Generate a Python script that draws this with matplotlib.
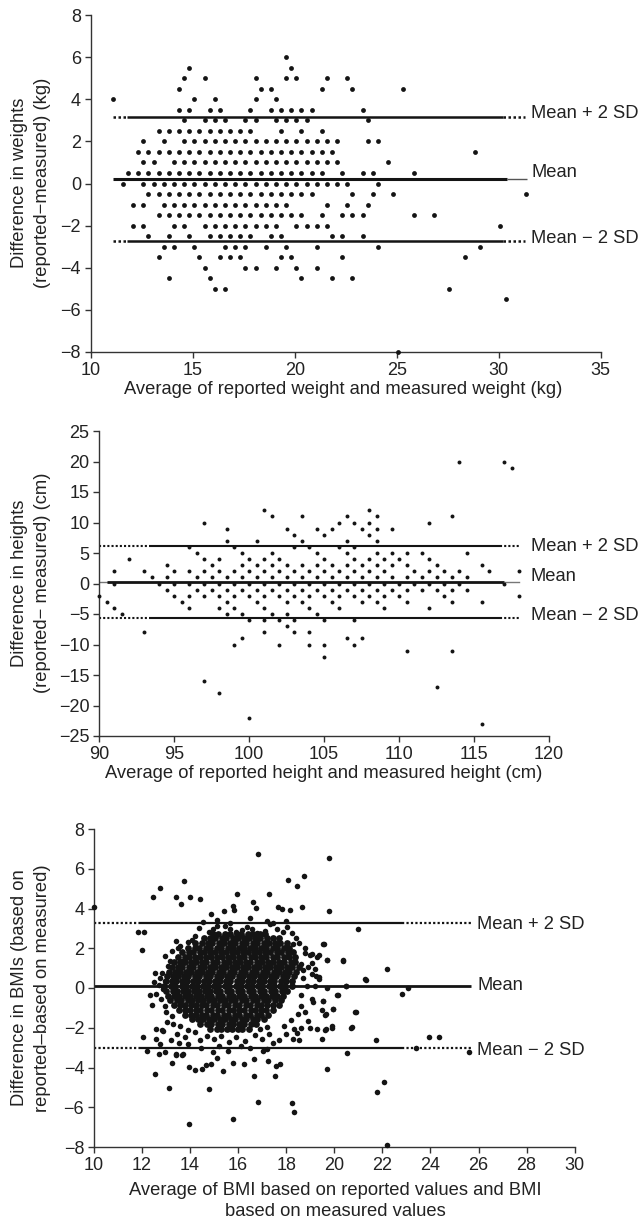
import matplotlib
matplotlib.use('Agg')
import matplotlib.pyplot as plt

plt.rcParams['font.family'] = ['Liberation Sans', 'DejaVu Sans']

# ---------------- Panel 1: weights ----------------
wt_diff_levels = [6.0, 5.5, 5.0, 4.5, 4.0, 3.5, 3.0, 2.5, 2.0, 1.5, 1.0, 0.5, 0.0,
                  -0.5, -1.0, -1.5, -2.0, -2.5, -3.0, -3.5, -4.0, -4.5, -5.0, -5.5, -8.0]
wt_avg_by_level = [
    [19.58],
    [14.83, 19.83],
    [14.58, 15.58, 18.08, 19.58, 20.08, 21.58, 22.58],
    [14.33, 18.33, 18.83, 21.33, 22.83, 25.33],
    [11.08, 15.08, 16.08, 18.08, 19.08],
    [14.33, 14.83, 15.83, 16.33, 17.83, 18.83, 19.33, 19.83, 20.33, 20.83, 23.33],
    [14.58, 15.58, 16.08, 16.58, 17.58, 18.08, 19.08, 19.58, 20.08, 20.58, 23.58],
    [13.33, 13.83, 14.33, 14.83, 15.33, 15.83, 16.33, 16.83, 17.33, 17.83, 19.33, 20.33, 21.33],
    [12.58, 13.58, 14.58, 15.08, 15.58, 16.08, 16.58, 17.08, 17.58, 18.08, 18.58, 19.08, 19.58,
     20.08, 20.58, 21.08, 21.58, 22.08, 23.58, 24.08],
    [12.33, 12.83, 13.33, 13.83, 14.33, 14.83, 15.33, 15.83, 16.33, 16.83, 17.33, 17.83, 18.33,
     18.83, 19.33, 19.83, 20.33, 20.83, 21.33, 21.83, 28.83],
    [12.58, 13.08, 14.08, 14.58, 15.08, 15.58, 16.08, 16.58, 17.08, 17.58, 18.08, 18.58, 19.08,
     19.58, 20.08, 20.58, 21.08, 21.58, 22.08, 24.58],
    [11.83, 12.33, 12.83, 13.33, 13.83, 14.33, 14.83, 15.33, 15.83, 16.33, 16.83, 17.33, 17.83,
     18.33, 18.83, 19.33, 19.83, 20.33, 20.83, 21.33, 22.33, 23.33, 23.83, 25.83],
    [11.58, 12.58, 13.08, 13.58, 14.08, 14.58, 15.08, 15.58, 16.08, 16.58, 17.08, 17.58, 18.08,
     18.58, 19.08, 19.58, 20.08, 20.58, 21.08, 21.58, 22.08, 22.58, 24.08],
    [12.83, 13.33, 13.83, 14.33, 14.83, 15.33, 15.83, 16.33, 16.83, 17.33, 17.83, 18.33, 18.83,
     19.33, 19.83, 20.33, 20.83, 22.83, 23.83, 24.83, 31.33],
    [12.08, 12.58, 13.58, 14.08, 14.58, 15.08, 15.58, 16.08, 16.58, 17.08, 17.58, 18.08, 18.58,
     19.08, 19.58, 21.58, 22.58, 23.58],
    [13.33, 13.83, 14.33, 14.83, 15.33, 15.83, 16.33, 16.83, 17.33, 17.83, 18.33, 18.83, 19.33,
     19.83, 20.33, 21.33, 22.33, 22.83, 23.33, 25.83, 26.83],
    [12.08, 12.58, 14.08, 14.58, 15.58, 16.08, 16.58, 17.08, 17.58, 18.08, 18.58, 19.08, 20.08,
     20.58, 21.08, 21.58, 30.08],
    [12.83, 13.83, 14.83, 15.83, 16.33, 16.83, 17.33, 17.83, 18.83, 19.33, 21.83, 22.33, 23.33],
    [13.58, 14.08, 15.08, 16.58, 17.08, 17.58, 18.58, 19.58, 21.08, 24.08, 29.08],
    [13.33, 15.33, 16.33, 16.83, 17.33, 19.33, 19.83, 22.33, 28.33],
    [15.58, 17.58, 18.08, 19.08, 20.08, 21.08],
    [13.83, 15.83, 20.33, 21.83, 22.83],
    [16.08, 16.58, 27.58],
    [30.33],
    [25.08],
]
wt_mean, wt_upper, wt_lower = 0.2, 3.18, -2.75

# ---------------- Panel 2: heights ----------------
ht_diff_levels = [20, 19, 12, 11, 10, 9, 8, 7, 6, 5, 4, 3, 2, 1, 0, -1, -2, -3, -4, -5, -6,
                  -7, -8, -9, -10, -11, -12, -16, -17, -18, -22, -23]
ht_avg_by_level = [
    [114, 117],
    [117.5],
    [101, 108],
    [101.5, 103.5, 106.5, 108.5, 113.5],
    [97, 106, 107, 108, 112],
    [98.5, 102.5, 104.5, 105.5, 107.5, 108.5, 109.5],
    [103, 105, 108],
    [98.5, 100.5, 103.5, 106.5, 108.5],
    [96, 99, 103, 104, 106, 107],
    [96.5, 99.5, 101.5, 104.5, 106.5, 108.5, 109.5, 110.5, 111.5, 114.5],
    [92, 97, 98, 100, 101, 102, 105, 107, 108, 109, 110, 112],
    [94.5, 97.5, 99.5, 100.5, 101.5, 102.5, 103.5, 104.5, 105.5, 106.5, 107.5, 108.5, 109.5,
     110.5, 112.5, 115.5],
    [91, 93, 95, 96, 97, 98, 99, 100, 101, 102, 103, 104, 105, 106, 107, 108, 109, 111, 112,
     113, 114, 116, 118],
    [93.5, 94.5, 96.5, 97.5, 98.5, 99.5, 100.5, 101.5, 102.5, 103.5, 104.5, 105.5, 106.5, 107.5,
     108.5, 109.5, 110.5, 111.5, 112.5, 113.5, 114.5],
    [91, 94, 95, 96, 97, 98, 99, 100, 101, 102, 103, 104, 105, 106, 107, 108, 109, 110, 111,
     112, 113, 114, 117],
    [94.5, 96.5, 97.5, 98.5, 99.5, 100.5, 101.5, 102.5, 103.5, 104.5, 105.5, 106.5, 107.5,
     108.5, 109.5, 110.5, 111.5, 112.5, 113.5, 114.5],
    [90, 95, 96, 97, 98, 99, 100, 101, 102, 103, 104, 105, 106, 107, 108, 109, 110, 113, 118],
    [90.5, 95.5, 98.5, 100.5, 102.5, 103.5, 105.5, 107.5, 108.5, 110.5, 113.5, 115.5],
    [91, 96, 98, 99, 101, 104, 106, 109, 112],
    [91.5, 98.5, 99.5, 101.5, 102.5, 104.5],
    [100, 101, 102, 103, 105, 107],
    [102.5],
    [93, 101, 103, 104],
    [99.5, 106.5, 107.5],
    [99, 102, 104, 105, 107],
    [110.5, 113.5],
    [105],
    [97],
    [112.5],
    [98],
    [100],
    [115.5],
]
ht_mean, ht_upper, ht_lower = 0.3, 6.1, -5.6

# ---------------- Panel 3: BMI ----------------
bmi_core_y = [2.74, 2.5, 2.27, 2.02, 1.79, 1.54, 1.3, 1.06, 0.83, 0.58, 0.35, 0.1, -0.14,
              -0.39, -0.62, -0.87, -1.1, -1.35, -1.58, -1.83, -2.07]
bmi_core_x = [
    [14.97, 15.18, 15.45, 15.68, 15.95, 16.13, 16.41, 16.6, 16.92, 17.12],
    [14.58, 14.84, 15.03, 15.31, 15.5, 15.77, 15.98, 16.24, 16.45, 16.72, 16.91, 17.22, 17.43, 17.72],
    [14.22, 14.49, 14.73, 14.93, 15.21, 15.42, 15.67, 15.88, 16.14, 16.33, 16.6, 16.79, 17.07,
     17.27, 17.52, 17.76, 18.02],
    [13.93, 14.19, 14.38, 14.65, 14.84, 15.11, 15.3, 15.57, 15.77, 16.04, 16.24, 16.5, 16.69,
     16.97, 17.17, 17.44, 17.63, 17.92, 18.13],
    [13.68, 13.94, 14.13, 14.4, 14.58, 14.85, 15.04, 15.3, 15.49, 15.75, 15.95, 16.22, 16.41,
     16.67, 16.86, 17.12, 17.33, 17.6, 17.8, 18.07, 18.28],
    [13.48, 13.77, 13.95, 14.22, 14.41, 14.67, 14.86, 15.12, 15.31, 15.58, 15.78, 16.05, 16.24,
     16.52, 16.7, 16.97, 17.16, 17.44, 17.63, 17.9, 18.1, 18.37],
    [13.33, 13.6, 13.78, 14.05, 14.24, 14.5, 14.68, 14.95, 15.14, 15.4, 15.6, 15.87, 16.06,
     16.32, 16.51, 16.78, 16.98, 17.25, 17.44, 17.72, 17.91, 18.19, 18.38],
    [13.23, 13.49, 13.68, 13.94, 14.13, 14.4, 14.58, 14.85, 15.03, 15.3, 15.48, 15.75, 15.94,
     16.22, 16.4, 16.67, 16.86, 17.12, 17.31, 17.58, 17.78, 18.05, 18.25, 18.52],
    [13.13, 13.39, 13.58, 13.84, 14.03, 14.29, 14.48, 14.75, 14.93, 15.2, 15.38, 15.65, 15.84,
     16.12, 16.3, 16.57, 16.76, 17.02, 17.21, 17.48, 17.68, 17.95, 18.13, 18.42],
    [13.03, 13.29, 13.48, 13.75, 13.93, 14.2, 14.38, 14.65, 14.84, 15.1, 15.28, 15.55, 15.74,
     16.02, 16.2, 16.47, 16.66, 16.92, 17.11, 17.38, 17.58, 17.85, 18.03, 18.32],
    [12.98, 13.24, 13.42, 13.68, 13.88, 14.14, 14.33, 14.59, 14.78, 15.05, 15.23, 15.5, 15.68,
     15.95, 16.14, 16.4, 16.6, 16.87, 17.06, 17.32, 17.51, 17.78, 17.98, 18.24],
    [12.93, 13.2, 13.38, 13.65, 13.83, 14.1, 14.28, 14.55, 14.74, 15.0, 15.18, 15.45, 15.64,
     15.92, 16.1, 16.37, 16.56, 16.82, 17.01, 17.28, 17.48, 17.74, 17.93, 18.22],
    [13.0, 13.27, 13.46, 13.72, 13.91, 14.17, 14.36, 14.62, 14.81, 15.08, 15.26, 15.52, 15.71,
     15.98, 16.18, 16.44, 16.63, 16.9, 17.08, 17.35, 17.54, 17.82, 18.05],
    [13.08, 13.35, 13.54, 13.8, 13.98, 14.25, 14.44, 14.7, 14.88, 15.15, 15.34, 15.6, 15.78,
     16.05, 16.24, 16.52, 16.7, 16.97, 17.16, 17.42, 17.61, 17.88],
    [13.18, 13.44, 13.63, 13.9, 14.08, 14.35, 14.53, 14.8, 14.98, 15.25, 15.44, 15.7, 15.88,
     16.15, 16.34, 16.62, 16.8, 17.07, 17.26, 17.52, 17.77],
    [13.33, 13.6, 13.78, 14.05, 14.23, 14.5, 14.68, 14.95, 15.14, 15.4, 15.58, 15.85, 16.04,
     16.32, 16.5, 16.77, 16.96, 17.22, 17.43, 17.7],
    [13.53, 13.8, 13.98, 14.24, 14.43, 14.7, 14.88, 15.15, 15.33, 15.6, 15.78, 16.05, 16.24,
     16.52, 16.7, 16.97, 17.16, 17.44],
    [13.78, 14.04, 14.23, 14.5, 14.68, 14.95, 15.13, 15.4, 15.58, 15.85, 16.04, 16.32, 16.5,
     16.77, 16.96, 17.24],
    [14.08, 14.35, 14.53, 14.8, 14.98, 15.25, 15.44, 15.7, 15.88, 16.15, 16.34, 16.62, 16.8, 17.07],
    [14.43, 14.7, 14.88, 15.15, 15.34, 15.6, 15.78, 16.05, 16.24, 16.52, 16.74],
    [14.83, 15.1, 15.28, 15.55, 15.74, 16.0, 16.18, 16.47],
]
# scattered points around the core and outliers
bmi_avg = [10.0, 11.82, 12.1, 12.02, 12.46, 12.77, 13.41, 13.62, 13.74, 14.0, 14.41,
           12.43, 12.05, 12.6, 12.6, 12.85, 12.77, 12.22, 12.72, 12.97,
           12.55, 13.23, 13.43, 13.67, 13.12, 13.97, 13.94, 14.19, 14.5, 14.77, 14.67, 14.89,
           15.11, 15.35, 15.77, 15.79, 16.25, 16.64, 16.64, 16.82, 17.25, 17.52, 17.59, 17.74,
           18.25, 18.34, 19.68, 20.54, 21.78, 22.07, 22.19, 21.73, 23.41, 23.96, 24.35, 25.62,
           22.19, 22.82, 23.07, 21.29, 21.32, 21.0, 20.36, 20.1, 20.49, 20.88, 20.71, 19.95,
           19.9, 19.63, 19.66, 19.51, 19.58, 19.69, 19.78, 19.78,
           16.84, 18.76, 18.08, 18.46, 17.28, 15.94, 16.62, 16.76, 15.77, 15.42, 15.84, 14.86,
           17.67, 17.84, 18.15, 18.66,
           14.37, 14.8, 14.97, 15.11, 15.45, 15.66, 15.91, 16.16, 16.38, 16.56, 16.79, 17.13,
           17.33, 17.6, 17.87, 18.05, 18.23, 14.08, 14.2, 13.9, 15.14, 15.66, 16.5, 17.19,
           17.47, 17.98, 18.4, 18.3, 14.55, 13.6, 13.4,
           13.5, 13.65, 13.17, 13.1, 12.56, 12.82, 12.75, 12.96, 12.89, 12.7, 12.6, 12.96,
           13.24, 12.8, 13.0, 13.05, 13.3, 12.86, 13.6, 13.45, 13.8, 13.2, 13.9, 12.35, 12.5,
           12.95, 13.25,
           18.53, 19.06, 19.06, 19.52, 19.71, 20.35, 18.78, 18.71, 19.06, 19.38, 19.38, 18.85,
           19.2, 19.68, 20.17, 20.49, 18.62, 19.06, 19.1, 19.55, 19.96, 19.62, 20.89, 18.31,
           18.62, 18.44, 18.92, 19.0, 19.3, 19.66, 19.89, 20.72, 19.49, 18.3, 18.55, 18.6,
           18.7, 18.9, 18.6, 18.5, 18.2, 17.9, 18.0, 17.7, 19.3, 19.2, 18.8, 19.5, 18.8,
           19.37, 19.0, 19.25,
           14.4, 14.7, 15.0, 15.3, 15.6, 15.9, 16.3, 16.7, 17.0, 17.3, 17.45, 16.9, 17.2,
           14.2, 13.41, 13.69, 13.55, 13.9, 14.44, 14.97, 15.59, 17.05, 17.2, 16.1, 16.5, 15.2]
bmi_diff = [4.06, 2.82, 2.82, 1.9, 4.58, 5.03, 4.6, 4.25, 5.39, 4.6, 4.47,
            -0.88, -2.45, -2.08, -2.55, -2.13, -2.84, -3.17, -3.34, -3.24,
            -4.35, -3.76, -3.39, -3.39, -5.02, -6.82, -3.98, -4.13, -4.08, -5.08, -3.89, -3.84,
            -3.51, -4.19, -6.59, -3.76, -3.84, -4.41, -3.56, -5.75, -3.69, -4.41, -3.91, -3.84,
            -5.8, -6.24, -4.06, -3.26, -5.22, -4.75, -7.91, -2.62, -3.02, -2.45, -2.45, -3.22,
            0.96, -0.29, 0.0, 0.43, 0.38, 2.97, 1.35, -0.34, 0.09, -1.2, -2.02, -1.08,
            -2.02, -2.13, -1.33, -0.66, 2.19, 1.43, 3.86, 6.53,
            6.74, 5.66, 5.45, 5.15, 4.73, 4.73, 4.32, 4.03, 4.11, 3.86, 3.91, 3.73,
            4.06, 3.95, 3.9, 4.06,
            3.04, 2.82, 2.96, 3.12, 3.12, 2.99, 2.82, 2.92, 3.09, 2.96, 2.79, 2.87,
            3.21, 2.96, 2.82, 3.09, 2.79, 2.4, 2.62, 2.3, 3.43, 3.29, 3.54, 3.38,
            3.29, 3.38, 2.5, 2.2, 3.3, 2.1, 2.35,
            2.03, 1.36, 1.36, 1.11, 0.77, 0.77, 0.52, 0.36, -0.06, 0.15, -0.3, -0.9,
            -1.41, -0.55, -1.2, -1.7, -1.83, -2.16, -1.9, -2.3, -2.45, -2.6, -2.1, -0.35, 0.3,
            1.6, 1.85,
            2.28, 1.7, 1.28, 2.23, 1.41, 1.39, 1.78, 0.52, 0.69, 0.57, 0.45, 0.1,
            0.1, 0.02, -0.37, 0.1, -0.37, -0.57, -0.72, -0.67, -1.04, -1.36, -1.21, -2.08,
            -2.0, -2.25, -1.66, -2.0, -2.08, -2.08, -1.91, -1.94, -2.58, -2.58, -2.6, 1.2,
            0.9, 1.05, -0.9, -1.3, -1.6, -1.9, -2.3, -2.6, 1.55, 0.95, 2.0, -1.1, -1.2,
            1.65, 1.67, 0.6,
            -2.6, -2.4, -2.55, -2.4, -2.7, -2.45, -2.65, -2.35, -2.55, -2.3, -2.75, -2.05, -1.95,
            -2.2, -3.3, -3.3, -2.75, -2.8, -3.0, -3.2, -3.17, -3.17, -3.05, -2.9, -3.0, -2.9]
bmi_mean, bmi_upper, bmi_lower = 0.12, 3.27, -3.02

INK = '#141414'
FS = 13.2
TXT = '#222222'


def expand(levels, rows):
    xs, ys = [], []
    for lv, row in zip(levels, rows):
        for v in row:
            xs.append(v)
            ys.append(lv)
    return xs, ys


def style(ax):
    for s in ('top', 'right'):
        ax.spines[s].set_visible(False)
    for s in ('left', 'bottom'):
        ax.spines[s].set_color('#333333')
        ax.spines[s].set_linewidth(1.0)
    ax.tick_params(direction='out', length=4, width=1.0, colors='#333333',
                   labelcolor=TXT, labelsize=13, pad=3)


def sd_line(ax, y, x0, xa, xb, x1, lw):
    ax.plot([x0, xa], [y, y], color=INK, lw=lw, ls=(0, (1, 1)), solid_capstyle='butt')
    ax.plot([xa, xb], [y, y], color=INK, lw=lw, ls='-', solid_capstyle='butt')
    ax.plot([xb, x1], [y, y], color=INK, lw=lw, ls=(0, (1, 1)), solid_capstyle='butt')


fig = plt.figure(figsize=(6.4, 12.27), dpi=100)
W, H = 640.0, 1227.0


def axes_px(x0, x1, ytop, ybot):
    return fig.add_axes([x0 / W, 1 - ybot / H, (x1 - x0) / W, (ybot - ytop) / H])


# ---- Panel 1 ----
ax1 = axes_px(90.7, 600.8, 15, 352)
style(ax1)
x, y = expand(wt_diff_levels, wt_avg_by_level)
ax1.scatter(x, y, s=12, color=INK, linewidths=0, zorder=3, clip_on=False)
sd_line(ax1, wt_upper, 11.1, 11.8, 30.2, 31.3, 1.8)
sd_line(ax1, wt_lower, 11.1, 11.8, 30.2, 31.3, 1.8)
ax1.plot([11.1, 30.4], [wt_mean] * 2, color=INK, lw=2.2, solid_capstyle='butt')
ax1.plot([30.4, 31.4], [wt_mean] * 2, color='#555555', lw=1.0, solid_capstyle='butt')
ax1.set_xlim(10, 35)
ax1.set_ylim(-8, 8)
ax1.set_xticks([10, 15, 20, 25, 30, 35])
ax1.set_yticks([-8, -6, -4, -2, 0, 2, 4, 6, 8])
ax1.text(31.6, wt_upper + 0.15, 'Mean + 2 SD', fontsize=FS, va='center', ha='left', color=TXT, clip_on=False)
ax1.text(31.6, wt_mean + 0.3, 'Mean', fontsize=FS, va='center', ha='left', color=TXT, clip_on=False)
ax1.text(31.6, wt_lower + 0.15, 'Mean \u2212 2 SD', fontsize=FS, va='center', ha='left', color=TXT, clip_on=False)
fig.text(31 / W, 1 - 183 / H, 'Difference in weights\n(reported\u2212measured) (kg)',
         rotation=90, ha='center', va='center', fontsize=FS, color=TXT, linespacing=1.45)
fig.text(343 / W, 1 - 389 / H, 'Average of reported weight and measured weight (kg)',
         ha='center', va='center', fontsize=FS, color=TXT)

# ---- Panel 2 ----
ax2 = axes_px(99, 549, 431, 736)
style(ax2)
x, y = expand(ht_diff_levels, ht_avg_by_level)
ax2.scatter(x, y, s=8, color=INK, linewidths=0, zorder=3, clip_on=False)
sd_line(ax2, ht_upper, 90, 93.3, 116.7, 118, 1.5)
sd_line(ax2, ht_lower, 90, 93.3, 116.7, 118, 1.5)
ax2.plot([90, 90.5], [ht_mean] * 2, color='#777777', lw=1.0)
ax2.plot([90.5, 117], [ht_mean] * 2, color=INK, lw=2.0, solid_capstyle='butt')
ax2.plot([117, 118], [ht_mean] * 2, color='#777777', lw=1.0)
ax2.set_xlim(90, 120)
ax2.set_ylim(-25, 25)
ax2.set_xticks([90, 95, 100, 105, 110, 115, 120])
ax2.set_yticks([-25, -20, -15, -10, -5, 0, 5, 10, 15, 20, 25])
ax2.text(118.8, ht_upper, 'Mean + 2 SD', fontsize=FS, va='center', ha='left', color=TXT, clip_on=False)
ax2.text(118.8, ht_mean + 0.8, 'Mean', fontsize=FS, va='center', ha='left', color=TXT, clip_on=False)
ax2.text(118.8, ht_lower + 0.3, 'Mean \u2212 2 SD', fontsize=FS, va='center', ha='left', color=TXT, clip_on=False)
fig.text(31 / W, 1 - 583 / H, 'Difference in heights\n(reported\u2212 measured) (cm)',
         rotation=90, ha='center', va='center', fontsize=FS, color=TXT, linespacing=1.45)
fig.text(324 / W, 1 - 773 / H, 'Average of reported height and measured height (cm)',
         ha='center', va='center', fontsize=FS, color=TXT)

# ---- Panel 3 ----
ax3 = axes_px(93.9, 574.7, 829, 1147)
style(ax3)
x, y = expand(bmi_core_y, bmi_core_x)
ax3.scatter(x, y, s=24, color=INK, linewidths=0, zorder=3)
ax3.scatter(bmi_avg, bmi_diff, s=16, color=INK, linewidths=0, zorder=3, clip_on=False)
sd_line(ax3, bmi_upper, 10, 11.9, 22.8, 25.7, 1.6)
sd_line(ax3, bmi_lower, 10, 11.9, 22.8, 25.7, 1.6)
ax3.plot([10, 25.7], [bmi_mean] * 2, color=INK, lw=2.0, solid_capstyle='butt')
ax3.set_xlim(10, 30)
ax3.set_ylim(-8, 8)
ax3.set_xticks(list(range(10, 31, 2)))
ax3.set_yticks([-8, -6, -4, -2, 0, 2, 4, 6, 8])
ax3.text(25.95, bmi_upper - 0.05, 'Mean + 2 SD', fontsize=FS, va='center', ha='left', color=TXT, clip_on=False)
ax3.text(25.95, bmi_mean, 'Mean', fontsize=FS, va='center', ha='left', color=TXT, clip_on=False)
ax3.text(25.95, bmi_lower - 0.1, 'Mean \u2212 2 SD', fontsize=FS, va='center', ha='left', color=TXT, clip_on=False)
fig.text(31 / W, 1 - 988 / H, 'Difference in BMIs (based on\nreported\u2013based on measured)',
         rotation=90, ha='center', va='center', fontsize=FS, color=TXT, linespacing=1.45)
fig.text(335 / W, 1 - 1201 / H, 'Average of BMI based on reported values and BMI\nbased on measured values',
         ha='center', va='center', fontsize=FS, color=TXT, linespacing=1.35)

fig.savefig('out.png', dpi=100)
